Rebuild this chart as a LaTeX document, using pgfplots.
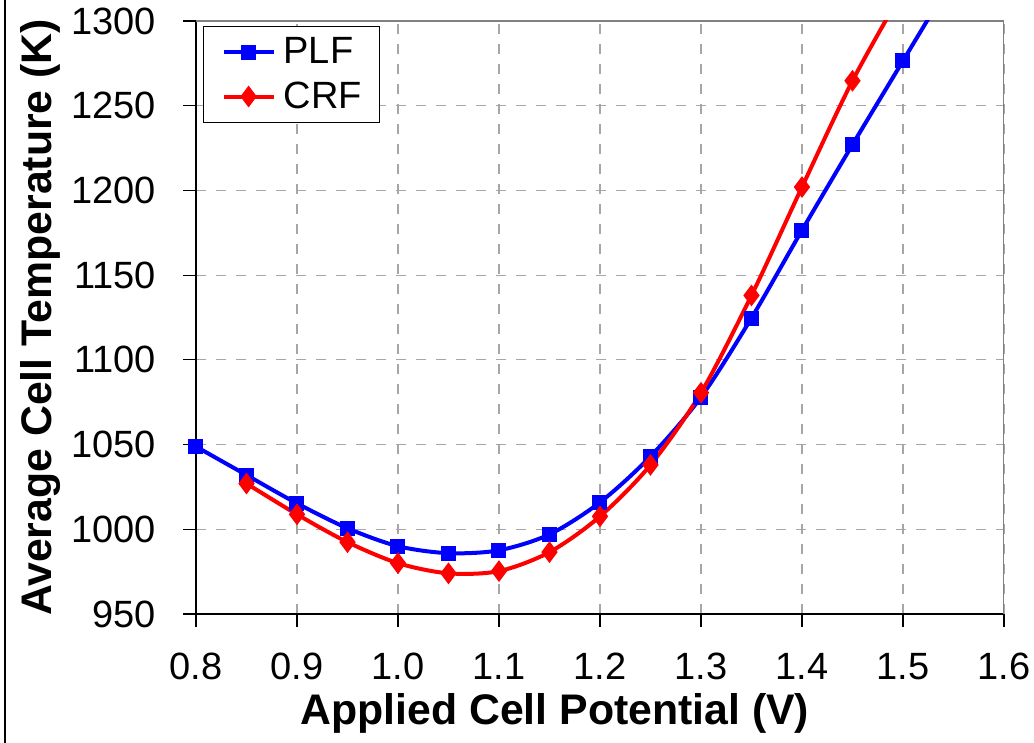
\documentclass[border=0pt]{standalone}
\usepackage{pgfplots}
\pgfplotsset{compat=1.18}
\usepackage{fontspec}
\setmainfont{Liberation Sans}
\begin{document}
\begin{tikzpicture}
\useasboundingbox (0,0) rectangle (517pt,371.5pt);
\draw[black, line width=0.6pt] (2.5pt,0) -- (2.5pt,371.5pt);
\begin{axis}[
  at={(98pt,64.5pt)}, anchor=south west,
  scale only axis, width=404pt, height=296.5pt,
  xmin=0.8, xmax=1.6, ymin=950, ymax=1300,
  xtick={0.8,0.9,...,1.61}, ytick={950,1000,...,1300},
  /pgf/number format/assume math mode=true,
  /pgf/number format/1000 sep={},
  xticklabel={\pgfmathprintnumber[fixed, fixed zerofill, precision=1]{\tick}},
  yticklabel={\pgfmathprintnumber{\tick}\hspace*{10pt}},
  xticklabel style={inner ysep=1pt, yshift=-12pt},
  yticklabel style={anchor=east},
  tick label style={font=\fontsize{19}{21}\selectfont, black},
  tick align=outside, major tick length=6.5pt,
  tick style={black, line width=0.6pt},
  axis x line*=bottom, axis y line*=left,
  axis line style={black, line width=0.7pt, -},
  grid=major,
  major grid style={gray!70, dashed, line width=0.6pt, dash pattern=on 5pt off 5pt},
  xlabel={\bfseries Applied Cell Potential (V)},
  ylabel={\bfseries Average Cell Temperature (K)},
  xlabel style={font=\fontsize{21.4}{23}\selectfont, inner sep=1pt, at={(axis description cs:0.444,0)}, anchor=center, yshift=-49.5pt},
  ylabel style={font=\fontsize{21.4}{23}\selectfont, inner sep=1pt, at={(axis description cs:-0.193,0.5)}, anchor=center},
  legend style={at={(axis description cs:0,1)}, anchor=north west, xshift=3.5pt, yshift=-2.5pt,
    draw=black, line width=0.6pt, font=\fontsize{19}{21}\selectfont, fill=white,
    inner xsep=9pt, inner ysep=5.5pt, nodes={inner sep=0pt}, column sep=4pt, row sep=7.5pt,
    cells={anchor=west}},
  legend image code/.code={\draw[#1, mark repeat=2, mark phase=2] plot coordinates {(0pt,0pt) (12.5pt,0pt) (25pt,0pt)};},
]
\draw[gray, line width=1pt] (rel axis cs:0,1) -- (rel axis cs:1,1) -- (rel axis cs:1,0);
\addplot[blue, line width=2pt, smooth, mark=square*, mark size=2.75pt, mark options={solid}] coordinates {
(0.80,1048.8) (0.85,1032) (0.90,1015.3) (0.95,1000.6) (1.00,990) (1.05,985.9) (1.10,987.6)
(1.15,997) (1.20,1015.9) (1.25,1043) (1.30,1078) (1.35,1124.7) (1.40,1176.5) (1.45,1227)
(1.50,1276.5) (1.55,1326)
};
\addlegendentry{PLF}
\addplot[red, line width=2pt, smooth, mark=diamond*, mark size=3.8pt, mark options={solid}] coordinates {
(0.85,1027) (0.90,1008.8) (0.95,992.4) (1.00,980) (1.05,974) (1.10,975.3) (1.15,986.5)
(1.20,1007.6) (1.25,1038) (1.30,1080.6) (1.35,1138) (1.40,1202) (1.45,1264.7) (1.50,1318)
};
\addlegendentry{CRF}
\end{axis}
\end{tikzpicture}
\end{document}
